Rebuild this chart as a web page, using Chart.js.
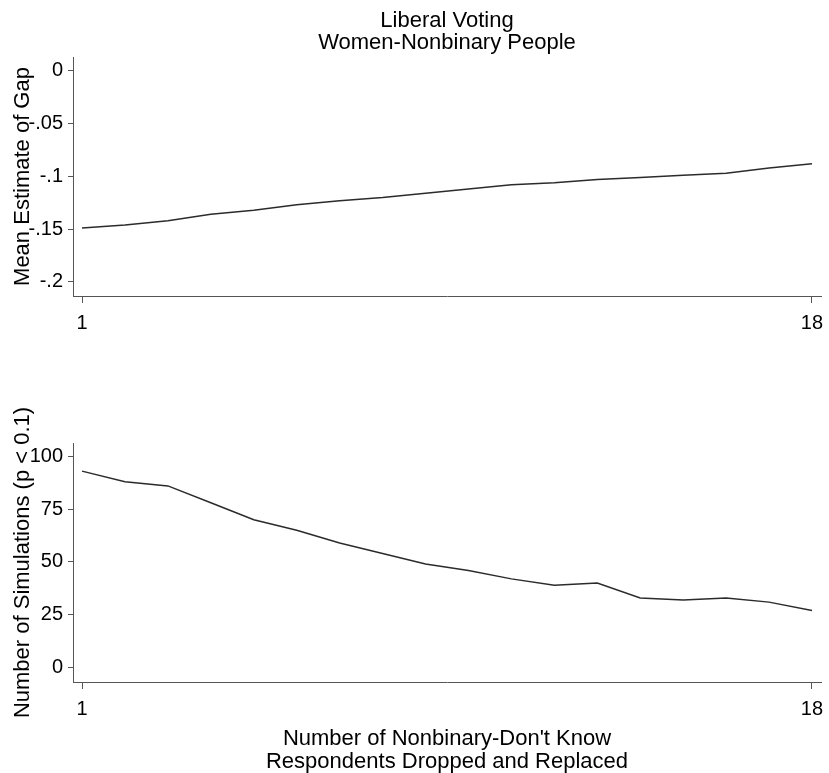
<!DOCTYPE html>
<html>
<head>
<meta charset="utf-8">
<script src="https://cdn.jsdelivr.net/npm/chart.js@4/dist/chart.umd.min.js"></script>
<style>
  html, body { margin: 0; padding: 0; background: #fff; }
  #wrap { position: relative; width: 829px; height: 773px; }
  #gapBox { position: absolute; left: 0; top: 0; width: 829px; height: 340px; }
  #simBox { position: absolute; left: 0; top: 340px; width: 829px; height: 433px; }
</style>
</head>
<body>
<div id="wrap">
  <div id="gapBox"><canvas id="gapChart"></canvas></div>
  <div id="simBox"><canvas id="simChart"></canvas></div>
</div>
<script>
// Number of nonbinary "don't know" respondents dropped and replaced
const nDropped = [1, 2, 3, 4, 5, 6, 7, 8, 9, 10, 11, 12, 13, 14, 15, 16, 17, 18];

// Mean estimated gap (women vs. nonbinary people), liberal voting
const gapMean = [-0.149, -0.146, -0.142, -0.136, -0.132, -0.127, -0.123, -0.120, -0.116,
                 -0.112, -0.108, -0.106, -0.103, -0.101, -0.099, -0.097, -0.092, -0.088];

// Number of simulations with p < 0.1
const sigCount = [93, 88, 86, 78, 70, 65, 59, 54, 49, 46, 42, 39, 40, 33, 32, 33, 31, 27];

// Axis ticks and their labels
const xTickValues = [1, 18];
const gapTickValues = [0, -0.05, -0.1, -0.15, -0.2];
const gapTickLabels = ['0', '-.05', '-.1', '-.15', '-.2'];
const simTickValues = [0, 25, 50, 75, 100];
const simTickLabels = ['0', '25', '50', '75', '100'];

// Text
const chartTitle = ['Liberal Voting', 'Women-Nonbinary People'];
const gapAxisTitle = 'Mean Estimate of Gap';
const simAxisTitle = 'Number of Simulations (p < 0.1)';
const xAxisTitle = ["Number of Nonbinary-Don't Know", 'Respondents Dropped and Replaced'];

const FONT = '"Liberation Sans", Arial, sans-serif';
const AXIS_COLOR = '#555555';
const LINE_COLOR = '#2b2b2b';

// Draws free-standing text (titles) after the chart is rendered
const textPlugin = {
  id: 'panelText',
  afterDraw(chart, args, opts) {
    const ctx = chart.ctx;
    const area = chart.chartArea;
    ctx.save();
    ctx.fillStyle = '#000';
    ctx.font = '22px ' + FONT;
    // rotated y-axis title, centred on the plot area
    ctx.save();
    ctx.translate(opts.yTitleX, (area.top + area.bottom) / 2);
    ctx.rotate(-Math.PI / 2);
    ctx.textAlign = 'center';
    ctx.textBaseline = 'middle';
    ctx.fillText(opts.yTitle, 0, 0);
    ctx.restore();
    // horizontal lines of text (main title or x-axis title)
    ctx.textAlign = 'center';
    ctx.textBaseline = 'alphabetic';
    const cx = (area.left + area.right) / 2;
    (opts.lines || []).forEach((t, i) => {
      ctx.fillText(t, cx, opts.linesY[i]);
    });
    ctx.restore();
  }
};

function makePanel(canvasId, values, yMin, yMax, yTicks, yLabels, padTop, xAxisHeight, textOpts) {
  return new Chart(document.getElementById(canvasId), {
    type: 'line',
    data: {
      labels: nDropped,
      datasets: [{
        data: nDropped.map((x, i) => ({ x: x, y: values[i] })),
        borderColor: LINE_COLOR,
        borderWidth: 1.5,
        pointRadius: 0,
        tension: 0,
        fill: false
      }]
    },
    options: {
      responsive: true,
      maintainAspectRatio: false,
      animation: false,
      events: [],
      layout: { padding: { top: padTop, right: 8, bottom: 0, left: 0 } },
      plugins: {
        legend: { display: false },
        tooltip: { enabled: false },
        title: { display: false },
        panelText: textOpts
      },
      scales: {
        x: {
          type: 'linear',
          min: 0.79,
          max: 18.21,
          afterBuildTicks: (axis) => { axis.ticks = xTickValues.map(v => ({ value: v })); },
          afterFit: (axis) => { axis.height = xAxisHeight; axis.paddingLeft = 0; axis.paddingRight = 0; },
          ticks: {
            color: '#000',
            font: { family: FONT, size: 20 },
            padding: 8,
            maxRotation: 0,
            autoSkip: false,
            callback: (v) => String(v)
          },
          grid: { display: true, drawOnChartArea: false, drawTicks: true, tickLength: 7, color: AXIS_COLOR, lineWidth: 1 },
          border: { display: true, color: AXIS_COLOR, width: 1 }
        },
        y: {
          type: 'linear',
          min: yMin,
          max: yMax,
          afterBuildTicks: (axis) => { axis.ticks = yTicks.map(v => ({ value: v })); },
          afterFit: (axis) => { axis.width = 73; },
          ticks: {
            color: '#000',
            font: { family: FONT, size: 20 },
            padding: 5,
            autoSkip: false,
            callback: (v) => {
              const k = yTicks.findIndex(t => Math.abs(t - v) < 1e-9);
              return k >= 0 ? yLabels[k] : '';
            }
          },
          grid: { display: true, drawOnChartArea: false, drawTicks: true, tickLength: 5, color: AXIS_COLOR, lineWidth: 1 },
          border: { display: true, color: AXIS_COLOR, width: 1 }
        }
      }
    },
    plugins: [textPlugin]
  });
}

// Upper panel: mean estimate of the gap
makePanel('gapChart', gapMean, -0.2133, 0.013, gapTickValues, gapTickLabels, 57, 44, {
  yTitle: gapAxisTitle,
  yTitleX: 23,
  lines: chartTitle,
  linesY: [27, 49]
});

// Lower panel: count of simulations reaching p < 0.1
makePanel('simChart', sigCount, -6.8, 106.3, simTickValues, simTickLabels, 103, 91, {
  yTitle: simAxisTitle,
  yTitleX: 23,
  lines: xAxisTitle,
  linesY: [405, 428]
});
</script>
</body>
</html>
